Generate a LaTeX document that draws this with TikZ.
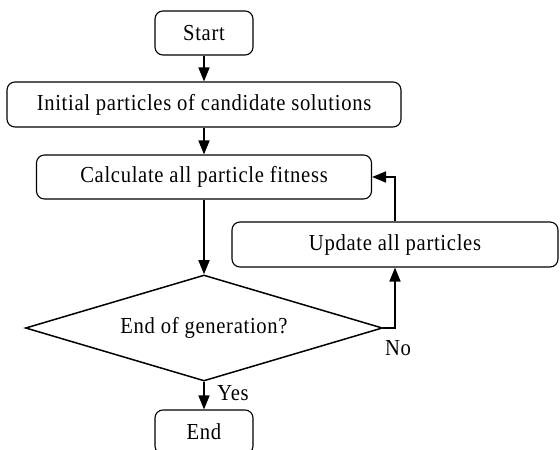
\documentclass[tikz,border=0pt]{standalone}
\usepackage{fontspec}
\setmainfont{Liberation Serif}[LetterSpace=3, FakeStretch=0.9]
\usetikzlibrary{arrows.meta, shapes.geometric, calc}

\begin{document}
\begin{tikzpicture}[x=1bp, y=-1bp,
    boite/.style={draw, rounded corners=8bp, line width=1.1bp, inner sep=0pt,
      font=\fontsize{23}{27}\selectfont},
    losange/.style={draw, diamond, aspect=3.4, line width=1.5bp, inner sep=0pt,
      font=\fontsize{23}{27}\selectfont},
    fleche/.style={-{Triangle[length=14bp, width=11bp]}, line width=1.7bp},
    etiq/.style={font=\fontsize{23}{27}\selectfont, inner sep=0pt}]
  \useasboundingbox (0,0) rectangle (560,450);
  % Blocs
  \node[boite, minimum width=98bp, minimum height=44bp] (debut) at (204,33) {Start};
  \node[boite, minimum width=394bp, minimum height=45bp] (init) at (204,104.5)
    {Initial particles of candidate solutions};
  \node[boite, minimum width=335bp, minimum height=44bp] (calc) at (204,177)
    {Calculate all particle fitness};
  \node[boite, minimum width=326bp, minimum height=45bp] (maj) at (395,244.5)
    {Update all particles};
  \node[losange, minimum width=357bp, minimum height=106bp] (test) at (204,328)
    {End of generation?};
  \node[boite, minimum width=98bp, minimum height=44bp] (fin) at (204,432) {End};
  % Fleches
  \draw[fleche] (debut) -- (init);
  \draw[fleche] (init) -- (calc);
  \draw[fleche] (calc) -- (test);
  \draw[fleche] (test) -- (fin);
  \draw[fleche] (test.east) -| (maj.south);
  \draw[fleche] (maj.north) |- (calc.east);
  % Etiquettes
  \node[etiq] (non) at (398,348) {No};
  \node[etiq] (oui) at (233,393) {Yes};
\end{tikzpicture}
\end{document}
